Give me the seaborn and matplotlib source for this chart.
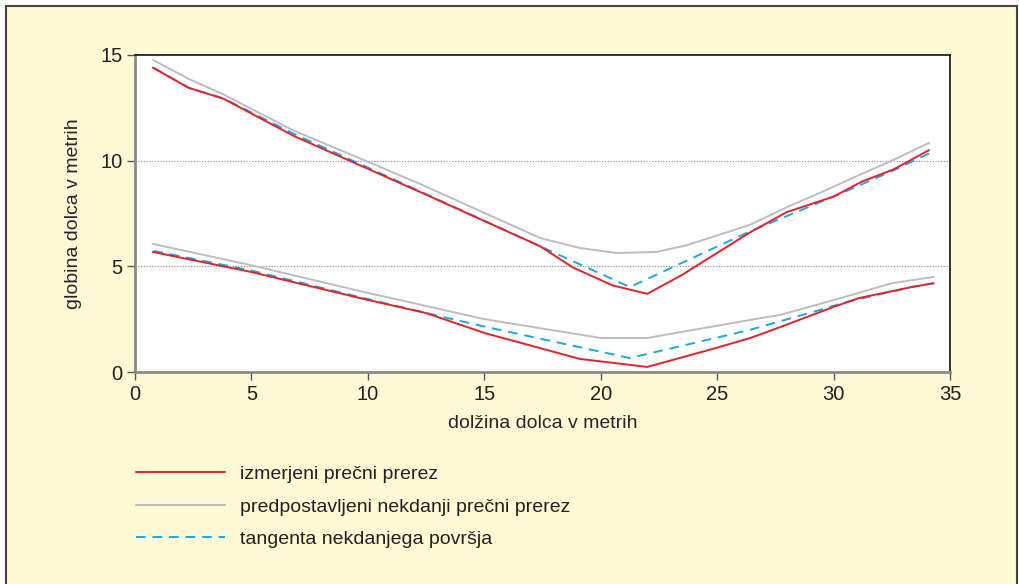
import pandas as pd
import seaborn as sns
import matplotlib.pyplot as plt
from matplotlib.patches import Rectangle

# measured cross-section (red), upper and lower profile
red_top_x = [0.77, 2.3, 3.8, 6.8, 12.24, 17.4, 18.8, 20.5, 22.0, 23.5, 26.4, 28.0, 30.0, 31.2, 32.6, 34.1]
red_top_y = [14.4, 13.45, 12.93, 11.18, 8.52, 5.95, 4.95, 4.1, 3.7, 4.6, 6.6, 7.57, 8.3, 9.0, 9.6, 10.5]
red_low_x = [0.77, 5.0, 10.0, 12.5, 15.0, 19.1, 22.0, 24.8, 26.4, 27.6, 30.0, 31.1, 33.4, 34.3]
red_low_y = [5.68, 4.73, 3.41, 2.79, 1.85, 0.62, 0.24, 1.09, 1.6, 2.08, 3.08, 3.5, 4.03, 4.2]

# assumed former cross-section (gray)
gray_top_x = [0.77, 2.3, 3.75, 6.8, 10.0, 12.24, 17.4, 19.1, 20.7, 22.4, 23.7, 26.4, 28.0, 29.5, 31.1, 32.4, 34.1]
gray_top_y = [14.77, 13.87, 13.16, 11.43, 9.95, 8.9, 6.34, 5.87, 5.63, 5.68, 6.0, 6.96, 7.8, 8.52, 9.32, 9.95, 10.84]
gray_low_x = [0.77, 5.0, 10.0, 11.4, 15.0, 20.0, 22.0, 26.4, 27.7, 30.0, 32.5, 34.3]
gray_low_y = [6.06, 5.05, 3.74, 3.4, 2.5, 1.61, 1.61, 2.46, 2.7, 3.4, 4.2, 4.5]

# tangent of former surface (blue dashed)
blue_top_x = [0.8, 2.3, 3.8, 6.8, 12.24, 17.4, 21.25, 26.4, 30.0, 32.6, 34.3]
blue_top_y = [14.4, 13.45, 12.95, 11.28, 8.55, 5.95, 4.02, 6.65, 8.3, 9.55, 10.45]
blue_low_x = [0.8, 5.0, 10.0, 11.4, 15.0, 21.25, 26.4, 29.4, 30.5, 33.4, 34.3]
blue_low_y = [5.73, 4.8, 3.45, 3.08, 2.15, 0.66, 1.99, 2.93, 3.3, 4.03, 4.2]

labels = ["izmerjeni prečni prerez",
          "predpostavljeni nekdanji prečni prerez",
          "tangenta nekdanjega površja"]

sns.set_style("white")
plt.rcParams["font.family"] = ["Liberation Sans", "DejaVu Sans"]
plt.rcParams["text.color"] = "#231f20"

bg = "#fff9d6"
fig = plt.figure(figsize=(10.19, 5.84), dpi=100)
fig.patch.set_facecolor("white")
frame = Rectangle((6 / 1019, -0.01), 1011 / 1019, 1 - 6 / 584 + 0.01,
                  transform=fig.transFigure, facecolor=bg,
                  edgecolor="#444444", linewidth=1.5, zorder=-10)
fig.patches.append(frame)
ax = fig.add_axes([135 / 1019, 1 - 372 / 584, 815 / 1019, 317 / 584])
ax.set_facecolor("white")

series = [
    (red_top_x, red_top_y, red_low_x, red_low_y, "#e8202a", "-", labels[0], 4),
    (gray_top_x, gray_top_y, gray_low_x, gray_low_y, "#bdbdbd", "-", labels[1], 2),
    (blue_top_x, blue_top_y, blue_low_x, blue_low_y, "#19a9e3", (0, (5, 3.5)), labels[2], 3),
]
for tx, ty, lx, ly, col, ls, lab, z in series:
    sns.lineplot(x=tx, y=ty, ax=ax, color=col, linestyle=ls, linewidth=1.4,
                 label=lab, zorder=z, sort=False)
    sns.lineplot(x=lx, y=ly, ax=ax, color=col, linestyle=ls, linewidth=1.4,
                 zorder=z, sort=False)

ax.set_xlim(0, 35)
ax.set_ylim(0, 15)
ax.set_xticks(range(0, 36, 5))
ax.set_yticks([0, 5, 10, 15])
for yv in [5, 10]:
    ax.axhline(yv, color="#888888", linestyle=(0, (1, 1.5)), linewidth=0.8, zorder=1)

for side in ["top", "right"]:
    ax.spines[side].set_color("#111111")
    ax.spines[side].set_linewidth(1.2)
for side in ["left", "bottom"]:
    ax.spines[side].set_color("#8a8a8a")
    ax.spines[side].set_linewidth(2)
ax.tick_params(axis="both", direction="out", length=6, width=1, color="#555555",
               labelsize=14.5, labelcolor="#231f20", pad=3, left=True, bottom=True)

ax.set_xlabel("dolžina dolca v metrih", fontsize=14, labelpad=8)
ax.set_ylabel("globina dolca v metrih", fontsize=14, labelpad=13)

ax.legend(loc="upper left", bbox_to_anchor=(118 / 1019, 1 - 448 / 584),
          bbox_transform=fig.transFigure, frameon=False, fontsize=14,
          handlelength=4.6, handletextpad=0.8, labelspacing=0.76)

plt.savefig("out.png", dpi=100, facecolor=fig.get_facecolor())
